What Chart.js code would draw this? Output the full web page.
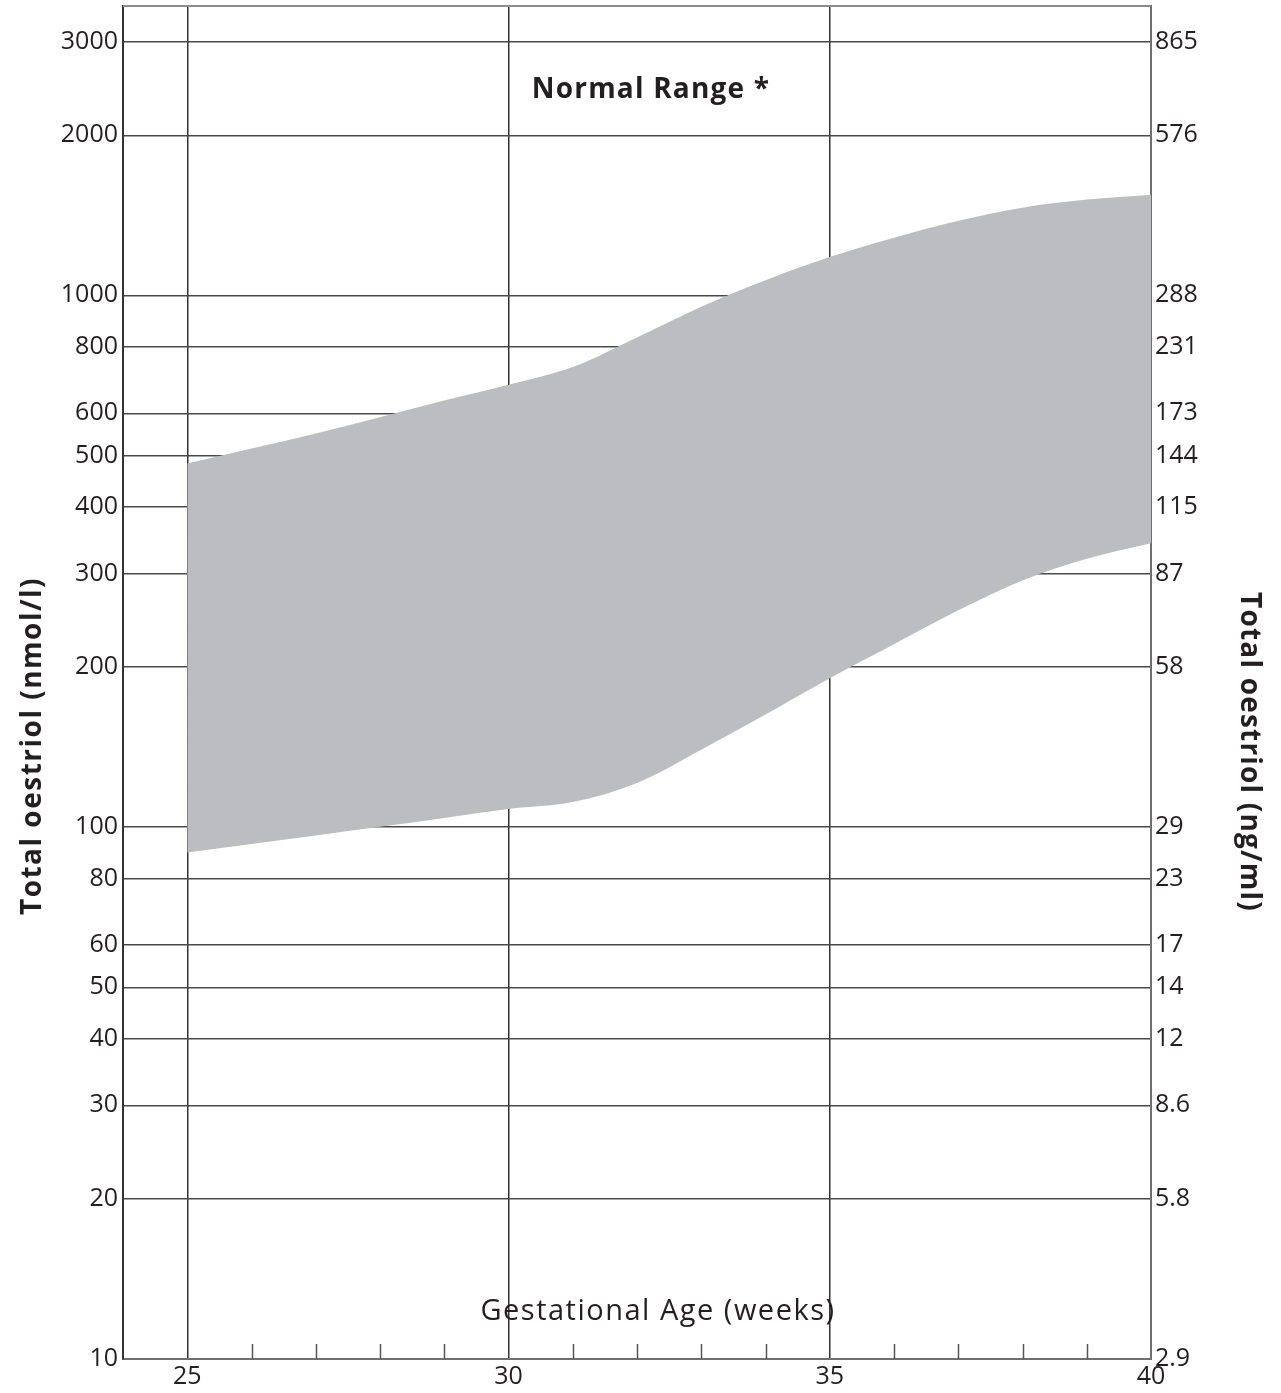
<!DOCTYPE html>
<html>
<head>
<meta charset="utf-8">
<script src="https://cdn.jsdelivr.net/npm/chart.js@4.4.1/dist/chart.umd.min.js"></script>
<style>
  html, body { margin: 0; padding: 0; background: #fff; }
  #wrap { width: 1281px; height: 1393px; }
</style>
</head>
<body>
<div id="wrap"><canvas id="oestriolChart" width="1281" height="1393"></canvas></div>
<script>
// gestational weeks and the normal range limits (nmol/l)
var weeks = [25, 26, 27, 28, 29, 30, 31, 32, 33, 34, 35, 36, 37, 38, 39, 40];
var upperLimit = [483, 515, 550, 590, 634, 679, 733, 833, 952, 1068, 1180, 1283, 1381, 1462, 1514, 1546];
var lowerLimit = [89.6, 93, 96.5, 100.2, 104.1, 108.2, 111.5, 121.1, 139.9, 162.9, 190.6, 220.8, 255.7, 291.1, 319.6, 341.8];

// left axis ticks (nmol/l) and matching right axis labels (ng/ml)
var nmolTicks = [10, 20, 30, 40, 50, 60, 80, 100, 200, 300, 400, 500, 600, 800, 1000, 2000, 3000];
var ngmlLabels = ['2.9', '5.8', '8.6', '12', '14', '17', '23', '29', '58', '87', '115', '144', '173', '231', '288', '576', '865'];
var weekLabels = [25, 30, 35, 40];

var inkColor = '#231f20';
var fontFamily = '"Open Sans", "Noto Sans", sans-serif';

function toPoints(values) {
  var pts = [];
  for (var i = 0; i < weeks.length; i++) {
    pts.push({ x: weeks[i], y: values[i] });
  }
  return pts;
}

function setTicks(values) {
  return function(scale) {
    scale.ticks = values.map(function(v) { return { value: v }; });
  };
}

// no extra room for label overhang, the frame is placed by hand
function noOverhang(scale) {
  scale.paddingTop = 0;
  scale.paddingBottom = 0;
  scale.paddingLeft = 0;
  scale.paddingRight = 0;
}

var decorPlugin = {
  id: 'oestriolDecor',
  afterDraw: function(chart) {
    var ctx = chart.ctx;
    var area = chart.chartArea;
    var xs = chart.scales.x;
    ctx.save();
    // top frame line
    ctx.strokeStyle = '#8c8c8c';
    ctx.lineWidth = 2;
    ctx.beginPath();
    ctx.moveTo(area.left, area.top);
    ctx.lineTo(area.right, area.top);
    ctx.stroke();
    // small week ticks standing up from the base line
    ctx.strokeStyle = '#555';
    ctx.lineWidth = 1.5;
    for (var w = 25; w < 40; w++) {
      if (w % 5 === 0) continue;
      var px = Math.round(xs.getPixelForValue(w)) + 0.5;
      ctx.beginPath();
      ctx.moveTo(px, area.bottom);
      ctx.lineTo(px, area.bottom - 15);
      ctx.stroke();
    }
    ctx.fillStyle = inkColor;
    ctx.textAlign = 'center';
    ctx.textBaseline = 'middle';
    ctx.letterSpacing = '1.2px';
    ctx.font = 'bold 28px ' + fontFamily;
    ctx.fillText('Normal Range *', 651, 90);
    ctx.letterSpacing = '1.5px';
    ctx.font = '29px ' + fontFamily;
    ctx.fillText('Gestational Age (weeks)', 658, 1312);
    // axis titles
    ctx.font = 'bold 28px ' + fontFamily;
    ctx.save();
    ctx.translate(33, 746);
    ctx.rotate(-Math.PI / 2);
    ctx.fillText('Total oestriol (nmol/l)', 0, 0);
    ctx.restore();
    ctx.letterSpacing = '1.2px';
    ctx.save();
    ctx.translate(1249, 752);
    ctx.rotate(Math.PI / 2);
    ctx.fillText('Total oestriol (ng/ml)', 0, 0);
    ctx.restore();
    ctx.restore();
  }
};

var ctx = document.getElementById('oestriolChart');
var myChart = new Chart(ctx, {
  type: 'line',
  data: {
    datasets: [
      {
        label: 'lower',
        data: toPoints(lowerLimit),
        borderColor: 'rgba(0,0,0,0)',
        borderWidth: 0,
        pointRadius: 0,
        fill: false,
        cubicInterpolationMode: 'monotone'
      },
      {
        label: 'upper',
        data: toPoints(upperLimit),
        borderColor: 'rgba(0,0,0,0)',
        borderWidth: 0,
        pointRadius: 0,
        backgroundColor: '#bcbdc1',
        fill: '-1',
        cubicInterpolationMode: 'monotone'
      }
    ]
  },
  options: {
    responsive: false,
    animation: false,
    devicePixelRatio: 1,
    layout: { padding: { top: 6, left: 0, right: 0, bottom: 0 } },
    plugins: {
      legend: { display: false },
      tooltip: { enabled: false }
    },
    scales: {
      x: {
        type: 'linear',
        min: 24,
        max: 40,
        z: 1,
        afterBuildTicks: setTicks([24, 25, 26, 27, 28, 29, 30, 31, 32, 33, 34, 35, 36, 37, 38, 39, 40]),
        afterFit: function(scale) { noOverhang(scale); scale.height = 34; },
        border: { display: true, color: '#6f6f6f', width: 2 },
        grid: {
          drawTicks: false,
          lineWidth: 1.5,
          color: function(c) {
            var v = c.tick ? c.tick.value : null;
            return (v === 25 || v === 30 || v === 35) ? '#333' : 'rgba(0,0,0,0)';
          }
        },
        ticks: {
          autoSkip: false,
          maxRotation: 0,
          padding: 3,
          color: inkColor,
          font: { family: fontFamily, size: 25 },
          callback: function(v) { return weekLabels.indexOf(v) >= 0 ? String(v) : ''; }
        }
      },
      y: {
        type: 'logarithmic',
        position: 'left',
        min: 10,
        max: 3500,
        z: 1,
        afterBuildTicks: setTicks(nmolTicks),
        afterFit: function(scale) { noOverhang(scale); scale.width = 123; },
        border: { display: true, color: '#333', width: 2 },
        grid: { drawTicks: false, lineWidth: 1.5, color: '#4a4a4a' },
        ticks: {
          padding: 5,
          color: inkColor,
          font: { family: fontFamily, size: 25 },
          callback: function(v) { return String(v); }
        }
      },
      y2: {
        type: 'logarithmic',
        position: 'right',
        min: 10,
        max: 3500,
        z: 1,
        afterBuildTicks: setTicks(nmolTicks),
        afterFit: function(scale) { noOverhang(scale); scale.width = 130; },
        border: { display: true, color: '#6f6f6f', width: 2 },
        grid: { display: false, drawTicks: false },
        ticks: {
          padding: 4,
          color: inkColor,
          font: { family: fontFamily, size: 25 },
          callback: function(v) {
            var i = nmolTicks.indexOf(v);
            return i >= 0 ? ngmlLabels[i] : '';
          }
        }
      }
    }
  },
  plugins: [decorPlugin]
});
</script>
</body>
</html>
